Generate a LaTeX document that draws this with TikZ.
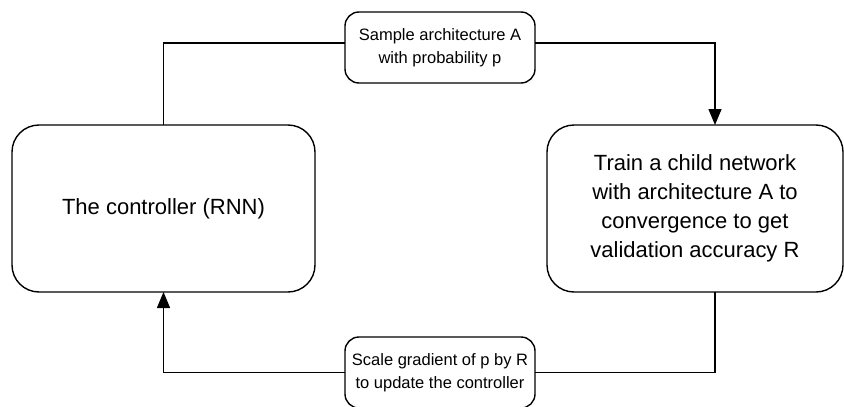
\documentclass[tikz,border=0pt]{standalone}
\usepackage{fontspec}
\setmainfont{Liberation Sans}
\usetikzlibrary{arrows.meta}

\begin{document}
\begin{tikzpicture}[x=1pt, y=-1pt, line width=1.4pt,
        box/.style={draw, rounded corners=27pt, align=center, outer sep=0pt,
            minimum height=167pt, font=\fontsize{22}{29}\selectfont},
        tag/.style={draw, rounded corners=14pt, align=center, outer sep=0pt,
            minimum width=190pt, minimum height=71pt, font=\fontsize{16.5}{22.5}\selectfont},
        flow/.style={-{Triangle[length=16pt, width=13pt]}}]
            \clip (0,0) rectangle (844,407);
            \node[box, minimum width=303pt] (ctrl) at (163.5,208.5) {The controller (RNN)};
            \node[box, minimum width=296pt] (train) at (695,208.5)
                {Train a child network\\with architecture A to\\convergence to get\\validation accuracy R};
            \node[tag] (sample) at (440,47.5) {Sample architecture A\\with probability p};
            \node[tag] (scale) at (440,372.5) {Scale gradient of p by R\\to update the controller};
            \draw (ctrl.north) |- ([yshift=4.5pt]sample.west);
            \draw[flow] ([yshift=4.5pt]sample.east) -| ([xshift=20pt]train.north);
            \draw ([xshift=20pt]train.south) |- (scale.east);
            \draw[flow] (scale.west) -| (ctrl.south);
    \end{tikzpicture}
\end{document}
